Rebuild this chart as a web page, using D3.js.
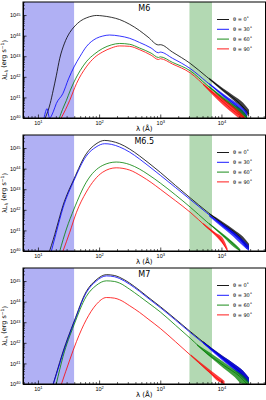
<!DOCTYPE html>
<html>
<head>
<meta charset="utf-8">
<script src="https://cdn.jsdelivr.net/npm/d3@7"></script>
<style>
  body { margin: 0; background: #fff; }
  svg { display: block; font-family: "DejaVu Sans", sans-serif; }
  .domain { stroke: #000; }
</style>
</head>
<body>
<svg id="chart" width="266" height="400"></svg>
<script>
// values are log10(lambda / A), log10(lambda L_lambda / erg s^-1)
var panelTitles = ["M6", "M6.5", "M7"];
var legendLabels = ["θ = 0˚", "θ = 30˚", "θ = 60˚", "θ = 90˚"];
var lineColors = ["#000000", "#0000ff", "#008000", "#ff0000"];
var xTicks = [10, 100, 1000, 10000];
var yTicks = [1e40, 1e41, 1e42, 1e43, 1e44, 1e45];
var xDomain = [5.7, 52500];
var yDomain = [1e40, 4.3e45];
var uvBand = [1, 39];
var optBand = [3000, 7000];

var m6_t0 = [[1.12,40.0],[1.2,40.7],[1.25,41.35],[1.30,42.05],[1.357,42.9],[1.43,43.6],[1.52,44.15],[1.59,44.42],[1.70,44.72],[1.79,44.86],[1.90,44.96],[1.96,44.98],[2.05,44.96],[2.2,44.89],[2.336,44.78],[2.5,44.55],[2.66,44.25],[2.8,43.93],[2.97,43.55],[3.0,43.56],[3.2,43.2],[3.49,42.65],[3.76,42.0],[4.03,41.35],[4.3,40.7],[4.45,40.2]];
var m6_t30 = [[1.10,40.0],[1.15,40.45],[1.19,40.0],[1.25,40.3],[1.30,40.7],[1.41,41.2],[1.5,41.9],[1.59,42.48],[1.69,43.0],[1.79,43.46],[1.956,43.87],[2.06,43.98],[2.17,44.03],[2.336,43.98],[2.5,43.87],[2.66,43.67],[2.85,43.4],[2.97,43.17],[3.0,43.2],[3.2,42.9],[3.49,42.4],[3.76,41.75],[4.03,41.1],[4.3,40.46],[4.42,40.1]];
var m6_t60 = [[1.35,40.0],[1.40,40.4],[1.466,40.86],[1.53,41.35],[1.59,41.75],[1.69,42.3],[1.79,42.73],[1.93,43.12],[2.06,43.38],[2.2,43.55],[2.336,43.62],[2.5,43.58],[2.66,43.4],[2.85,43.15],[2.97,42.94],[3.0,42.97],[3.2,42.7],[3.49,42.29],[3.76,41.6],[4.03,40.94],[4.3,40.3],[4.42,40.0]];
var m6_t90 = [[1.38,40.0],[1.45,40.4],[1.52,40.86],[1.63,41.67],[1.79,42.48],[1.93,42.95],[2.06,43.21],[2.2,43.4],[2.336,43.5],[2.5,43.48],[2.66,43.32],[2.85,43.05],[2.97,42.84],[3.0,42.88],[3.2,42.62],[3.49,42.19],[3.76,41.48],[4.03,40.78],[4.3,40.13],[4.38,40.0]];

var m65_t0 = [[1.19,40.0],[1.25,40.55],[1.30,41.07],[1.41,42.21],[1.59,43.5],[1.79,44.72],[1.95,45.2],[2.09,45.37],[2.2,45.33],[2.336,45.21],[2.5,44.95],[2.66,44.62],[2.8,44.3],[3.0,43.82],[3.25,43.18],[3.49,42.58],[3.76,41.92],[4.03,41.3],[4.3,40.67],[4.42,40.2]];
var m65_t30 = [[1.22,40.0],[1.30,40.9],[1.41,42.1],[1.59,43.43],[1.79,44.61],[1.95,45.05],[2.09,45.21],[2.2,45.18],[2.336,45.05],[2.5,44.8],[2.66,44.47],[2.8,44.15],[3.0,43.68],[3.25,43.08],[3.49,42.5],[3.76,41.85],[4.03,41.2],[4.3,40.58],[4.42,40.1]];
var m65_t60 = [[1.357,40.0],[1.466,41.07],[1.59,42.04],[1.79,43.34],[2.06,44.16],[2.28,44.32],[2.5,44.2],[2.66,43.98],[2.8,43.72],[3.0,43.3],[3.25,42.72],[3.49,42.13],[3.76,41.42],[4.03,40.75],[4.25,40.18],[4.3,40.0]];
var m65_t90 = [[1.41,40.0],[1.52,40.91],[1.63,41.88],[1.79,42.86],[2.06,43.83],[2.28,44.04],[2.5,43.93],[2.7,43.62],[2.85,43.33],[3.0,43.0],[3.25,42.44],[3.49,41.88],[3.76,41.15],[4.0,40.5],[4.06,40.2],[4.1,40.0]];

var m7_t0 = [[1.25,40.0],[1.30,40.5],[1.41,41.57],[1.59,43.03],[1.79,44.49],[1.95,45.05],[2.12,45.31],[2.25,45.27],[2.336,45.18],[2.5,44.9],[2.66,44.55],[2.8,44.22],[3.0,43.76],[3.25,43.15],[3.49,42.55],[3.76,41.9],[4.03,41.25],[4.3,40.6],[4.42,40.2]];
var m7_t30 = [[1.25,40.0],[1.30,40.45],[1.41,41.5],[1.59,42.98],[1.79,44.43],[1.95,44.99],[2.12,45.25],[2.25,45.21],[2.336,45.12],[2.5,44.84],[2.66,44.5],[2.8,44.17],[3.0,43.71],[3.25,43.1],[3.49,42.5],[3.76,41.85],[4.03,41.2],[4.3,40.55],[4.42,40.15]];
var m7_t60 = [[1.30,40.0],[1.41,41.33],[1.59,42.87],[1.79,44.25],[1.95,44.78],[2.12,45.01],[2.25,44.98],[2.336,44.9],[2.5,44.6],[2.66,44.26],[2.8,43.95],[3.0,43.5],[3.25,42.85],[3.49,42.22],[3.76,41.49],[4.03,40.92],[4.3,40.36],[4.42,40.0]];
var m7_t90 = [[1.385,40.0],[1.52,41.17],[1.63,42.06],[1.79,43.12],[1.95,43.85],[2.12,44.2],[2.25,44.17],[2.336,44.09],[2.5,43.8],[2.66,43.48],[2.8,43.16],[3.0,42.7],[3.25,42.05],[3.49,41.41],[3.76,40.68],[4.0,40.11],[4.05,40.0]];

// noisy tails: [log lambda, low, high]
var m6_n0 = [[3.8,41.87,41.95],[4.03,41.27,41.43],[4.2,40.85,41.08],[4.35,40.45,40.75],[4.45,40.05,40.4]];
var m6_n30 = [[3.8,41.63,41.7],[4.03,41.02,41.18],[4.2,40.6,40.82],[4.35,40.2,40.5],[4.42,40.0,40.3]];
var m6_n60 = [[3.8,41.48,41.55],[4.03,40.86,41.02],[4.2,40.45,40.65],[4.35,40.05,40.35],[4.42,40.0,40.1]];
var m6_n90 = [[3.7,41.6,41.68],[4.03,40.62,40.92],[4.2,40.2,40.55],[4.3,40.0,40.3],[4.38,40.0,40.05]];
var m65_n0 = [[3.8,41.77,41.83],[4.03,41.22,41.4],[4.2,40.8,41.05],[4.35,40.4,40.7],[4.45,40.05,40.35]];
var m65_n30 = [[3.8,41.68,41.75],[4.03,41.1,41.3],[4.2,40.68,40.92],[4.35,40.25,40.55],[4.45,40.0,40.25]];
var m65_n60 = [[3.8,41.3,41.36],[4.03,40.68,40.82],[4.2,40.2,40.4],[4.3,40.0,40.12]];
var m65_n90 = [[3.7,41.3,41.36],[3.9,40.74,40.9],[4.03,40.3,40.6],[4.1,40.0,40.12]];
var m7_n0 = [[3.7,42.02,42.08],[4.03,41.18,41.35],[4.2,40.75,41.0],[4.35,40.35,40.65],[4.45,40.05,40.3]];
var m7_n30 = [[3.7,41.97,42.05],[4.03,41.1,41.33],[4.2,40.68,41.0],[4.35,40.28,40.65],[4.45,40.0,40.3]];
var m7_n60 = [[3.6,41.87,41.93],[4.03,40.78,41.08],[4.2,40.38,40.72],[4.35,40.0,40.42],[4.45,40.0,40.1]];
var m7_n90 = [[3.5,41.37,41.43],[3.8,40.55,40.72],[3.95,40.12,40.38],[4.05,40.0,40.15]];

var panelSeries = [[m6_t0, m6_t30, m6_t60, m6_t90], [m65_t0, m65_t30, m65_t60, m65_t90], [m7_t0, m7_t30, m7_t60, m7_t90]];
var panelNoise = [[m6_n0, m6_n30, m6_n60, m6_n90], [m65_n0, m65_n30, m65_n60, m65_n90], [m7_n0, m7_n30, m7_n60, m7_n90]];

var svg = d3.select("#chart"),
    margin = {left: 23, right: 0.5},
    width = 266 - margin.left - margin.right,
    height = 116,
    tops = [2, 135, 268];

var x = d3.scaleLog().domain(xDomain).range([0, width]),
    y = d3.scaleLog().domain(yDomain).range([height, 0]);

function p10(v) { return Math.pow(10, v); }

var line = d3.line()
    .curve(d3.curveMonotoneX)
    .x(function(d) { return x(p10(d[0])); })
    .y(function(d) { return y(p10(d[1])); });

var band = d3.area()
    .curve(d3.curveMonotoneX)
    .x(function(d) { return x(p10(d[0])); })
    .y0(function(d) { return y(p10(d[1])); })
    .y1(function(d) { return y(p10(d[2])); });

var minorX = [], minorY = [];
[1, 10, 100, 1000, 10000].forEach(function (b) {
  for (var k = 2; k < 10; k++) {
    var v = b * k;
    if (v > xDomain[0] && v < xDomain[1]) minorX.push(v);
  }
});
[1e40, 1e41, 1e42, 1e43, 1e44, 1e45].forEach(function (b) {
  for (var k = 2; k < 10; k++) {
    var v = b * k;
    if (v < yDomain[1]) minorY.push(v);
  }
});

function powLabel(sel, exp) {
  sel.text(null);
  sel.append("tspan").text("10");
  sel.append("tspan").attr("dy", "-0.45em").style("font-size", "4px").text(exp);
}

panelTitles.forEach(function (title, pi) {
  var g = svg.append("g").attr("transform", "translate(" + margin.left + "," + tops[pi] + ")");

  g.append("clipPath").attr("id", "clip" + pi)
    .append("rect").attr("width", width).attr("height", height);

  var inner = g.append("g").attr("clip-path", "url(#clip" + pi + ")");

  inner.append("rect")
      .attr("x", x(uvBand[0]) < 0 ? 0 : x(uvBand[0]))
      .attr("width", x(uvBand[1]) - Math.max(0, x(uvBand[0])))
      .attr("y", 0).attr("height", height)
      .attr("fill", "#b0b0f4");

  inner.append("rect")
      .attr("x", x(optBand[0]))
      .attr("width", x(optBand[1]) - x(optBand[0]))
      .attr("y", 0).attr("height", height)
      .attr("fill", "#b3d9b3");

  panelSeries[pi].forEach(function (s, si) {
    inner.append("path")
        .attr("d", band(panelNoise[pi][si]))
        .attr("fill", lineColors[si])
        .attr("fill-opacity", 0.75);
    inner.append("path")
        .attr("d", line(s))
        .attr("fill", "none")
        .attr("stroke", lineColors[si])
        .attr("stroke-width", 0.8);
  });

  // axes
  var xa = g.append("g")
      .attr("transform", "translate(0," + height + ")")
      .call(d3.axisBottom(x).tickValues(xTicks).tickSizeInner(-3.5).tickSizeOuter(0).tickPadding(3));
  xa.selectAll(".tick text").style("font-size", "5.5px").each(function (d) {
    powLabel(d3.select(this), Math.round(Math.log10(d)));
  });
  xa.append("g").selectAll("line").data(minorX).enter().append("line")
      .attr("x1", function(d) { return x(d); }).attr("x2", function(d) { return x(d); })
      .attr("y1", 0).attr("y2", -2).attr("stroke", "#000").attr("stroke-width", 0.6);

  var ya = g.append("g")
      .call(d3.axisLeft(y).tickValues(yTicks).tickSizeInner(-3.5).tickSizeOuter(0).tickPadding(2.5));
  ya.selectAll(".tick text").style("font-size", "5.5px").each(function (d) {
    powLabel(d3.select(this), Math.round(Math.log10(d)));
  });
  ya.append("g").selectAll("line").data(minorY).enter().append("line")
      .attr("y1", function(d) { return y(d); }).attr("y2", function(d) { return y(d); })
      .attr("x1", 0).attr("x2", 2).attr("stroke", "#000").attr("stroke-width", 0.6);

  g.selectAll(".tick line").attr("stroke-width", 0.7);

  g.append("rect")
      .attr("width", width).attr("height", height)
      .attr("fill", "none").attr("stroke", "#000").attr("stroke-width", 1);

  g.append("text")
      .attr("x", width / 2).attr("y", 8.5)
      .attr("text-anchor", "middle")
      .style("font-size", "8px")
      .text(title);

  g.append("text")
      .attr("x", width / 2).attr("y", height + 12.5)
      .attr("text-anchor", "middle")
      .style("font-size", "7px")
      .text("λ (Å)");

  var yl = g.append("text")
      .attr("transform", "translate(-16," + (height / 2) + ") rotate(-90)")
      .attr("text-anchor", "middle")
      .style("font-size", "6.5px");
  yl.append("tspan").text("λL");
  yl.append("tspan").attr("dy", "0.3em").style("font-size", "4.5px").text("λ");
  yl.append("tspan").attr("dy", "-0.3em").text(" (erg s");
  yl.append("tspan").attr("dy", "-0.45em").style("font-size", "4.5px").text("−1");
  yl.append("tspan").attr("dy", "0.45em").text(")");

  var lg = g.append("g").attr("transform", "translate(" + (217 - margin.left) + ",17.5)");
  legendLabels.forEach(function (lab, li) {
    var row = lg.append("g").attr("transform", "translate(0," + (li * 9.8) + ")");
    row.append("line").attr("x1", 0).attr("x2", 12)
        .attr("stroke", lineColors[li]).attr("stroke-width", 0.9);
    row.append("text").attr("x", 16).attr("y", 1.8)
        .style("font-size", "5px").text(lab);
  });
});
</script>
</body>
</html>
